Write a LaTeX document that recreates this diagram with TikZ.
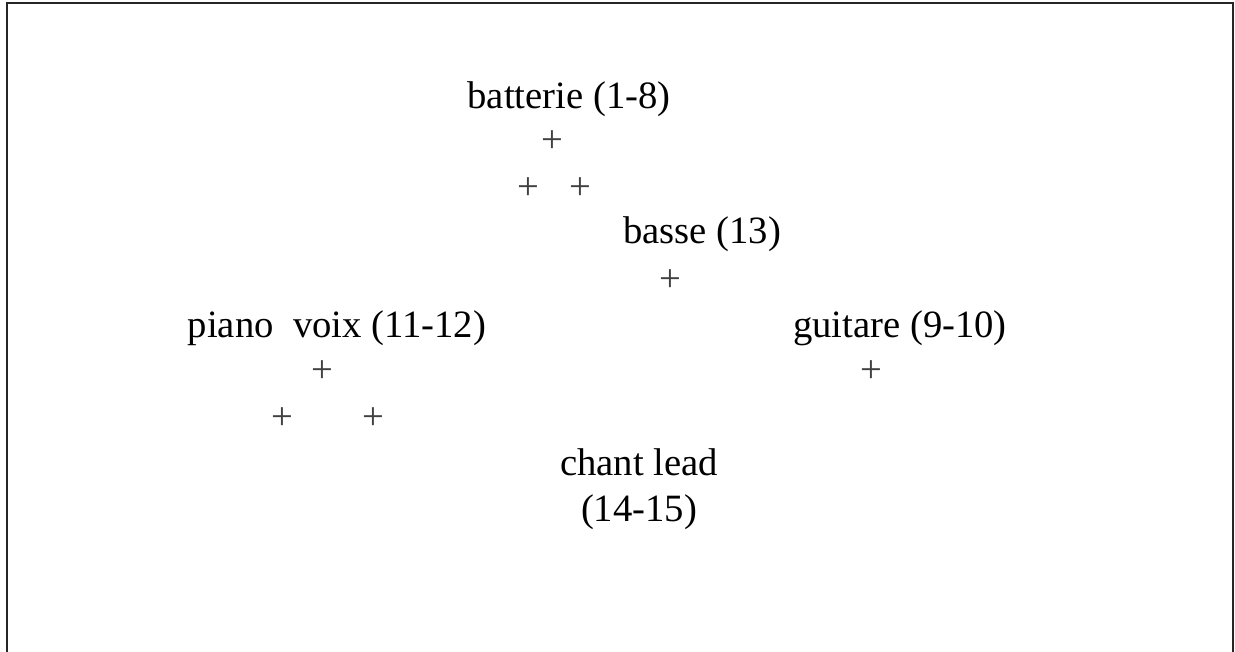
\documentclass[tikz,border=0pt]{standalone}
\usepackage{fontspec}
\setmainfont{Liberation Serif}
\newfontfamily\partfont{Liberation Serif}
\usepackage{xcolor}
\usetikzlibrary{positioning}

\tikzset{
	part/.style={anchor=base, inner sep=0pt, font=\partfont\fontsize{29}{34}\selectfont},
	plusmark/.style={inner sep=0pt, text=black!75, font=\partfont\fontsize{29}{34}\selectfont}
}

\begin{document}
\begin{tikzpicture}[x=0.75pt, y=-0.75pt]
			\useasboundingbox (0,0) rectangle (1235,652);
			\draw[line width=1.5pt, black!85] (7,652) -- (7,3) -- (1233,3) -- (1233,652);
			\node[name=batterie, part] at (569,109) {batterie (1-8)};
			\node[name=p1, plusmark] at (552,142) {+};
			\node[name=p2, plusmark] at (528,189) {+};
			\node[name=p3, plusmark] at (580,189) {+};
			\node[name=basse, part] at (702,244) {basse (13)};
			\node[name=p4, plusmark] at (670,281) {+};
			\node[name=voix, part] at (337,338) {piano\hspace{0.5em}voix (11-12)};
			\node[name=p5, plusmark] at (322,372) {+};
			\node[name=p6, plusmark] at (282,419) {+};
			\node[name=p7, plusmark] at (373,419) {+};
			\node[name=guitare, part] at (900,338) {guitare (9-10)};
			\node[name=p8, plusmark] at (871,372) {+};
			\node[name=chant, part] at (639,475) {chant lead};
			\node[name=lead, part] at (639,521) {(14-15)};
		\end{tikzpicture}
\end{document}
